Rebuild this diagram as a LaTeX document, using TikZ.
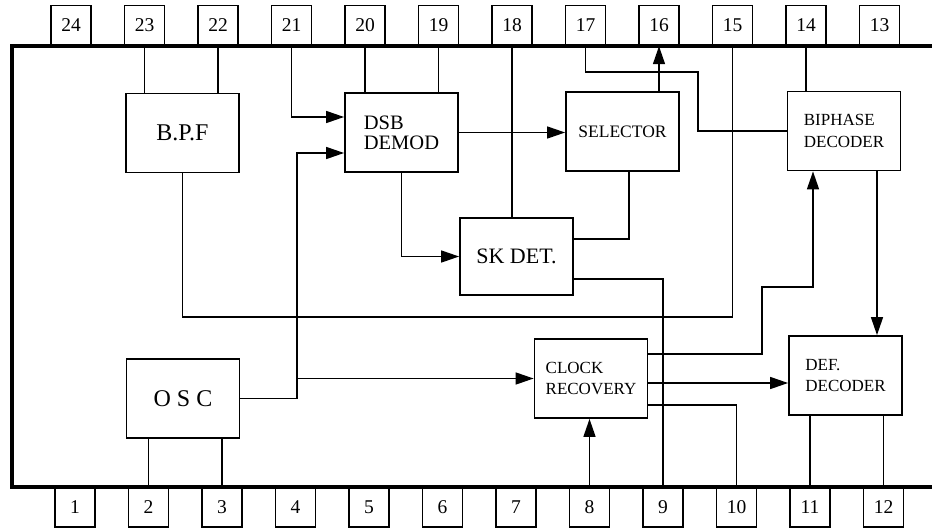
\documentclass[tikz,border=0pt]{standalone}
\usepackage{fontspec}
\setmainfont{Liberation Serif}
\usetikzlibrary{arrows.meta, positioning, calc}
\tikzset{
   mypin/.style={draw, line width=1.4pt, minimum width=40pt, minimum height=40pt, inner sep=0pt, font=\fontsize{19.5}{19.5}\selectfont},
   myblock/.style={draw, line width=1.8pt, minimum width=113pt, minimum height=79pt, inner sep=0pt, align=left},
   mywire/.style={line width=1.5pt}
}

\begin{document}
\begin{tikzpicture}[x=1pt, y=-1pt, >={Triangle[length=18pt,width=12pt]}]
      \useasboundingbox (0,0) rectangle (932,531);
      % chip outline and pins
      \draw[line width=4.5pt] (932,46) -- (12,46) -- (12,487) -- (932,487);
      \foreach \n in {13,...,24}
        \node[mypin] (t\n) at ({71+73.5*(24-\n)},25.5) {\n};
      \foreach \n in {1,...,12}
        \node[mypin] (b\n) at ({75+73.5*(\n-1)},507) {\n};

      % blocks
      \node[myblock, font=\fontsize{24}{24}\selectfont] (bpf) at (182.5,133) {B.P.F};
      \node[myblock, font=\fontsize{20.5}{20}\selectfont] (dsb) at (401.5,132.5) {DSB\\DEMOD};
      \node[myblock, font=\fontsize{17.5}{21}\selectfont] (sel) at (622.5,131.5) {SELECTOR};
      \node[myblock, font=\fontsize{17}{21.5}\selectfont] (bip) at (844,131) {BIPHASE\\DECODER};
      \node[myblock, minimum height=77pt, font=\fontsize{22}{22}\selectfont] (sk) at (516.5,256.5) {SK DET.};
      \node[myblock, font=\fontsize{24}{24}\selectfont] (osc) at (183,398.5) {O S C};
      \node[myblock, font=\fontsize{17}{21.5}\selectfont] (clk) at (591,378.5) {CLOCK\\RECOVERY};
      \node[myblock, font=\fontsize{17}{21.5}\selectfont] (def) at (845.5,375.5) {DEF.\\DECODER};
      \coordinate (bus) at (297,0);

      % pins to blocks
      \draw[mywire] (t23.south) -- (t23.south |- bpf.north);
      \draw[mywire] (t22.south) -- (t22.south |- bpf.north);
      \draw[mywire] (t20.south) -- (t20.south |- dsb.north);
      \draw[mywire] (t19.south) -- (t19.south |- dsb.north);
      \draw[mywire] (t18.south) -- (t18.south |- sk.north);
      \draw[mywire] (t14.south) -- (t14.south |- bip.north);
      \draw[mywire] (b2.north) -- (b2.north |- osc.south);
      \draw[mywire] (b3.north) -- (b3.north |- osc.south);
      \draw[mywire] (b11.north) -- (b11.north |- def.south);
      \draw[mywire] (b12.north) -- (b12.north |- def.south);
      \draw[mywire,->] (b8.north) -- (b8.north |- clk.south);
      \draw[mywire,->] (sel.north -| t16) -- (t16.south);
      \draw[mywire,->] (t21.south) |- (dsb.west |- 0,117);
      \draw[mywire] (t17.south) |- (698,72) |- (bip.west);
      \draw[mywire] (bpf.south) |- (t15 |- 0,317) -- (t15.south);

      % signal paths
      \draw[mywire,->] (osc.east) -| (bus |- 0,153) -- (dsb.west |- 0,153);
      \draw[mywire,->] (clk.west -| bus) -- (clk.west);
      \draw[mywire,->] (dsb.east) -- (sel.west |- dsb.east);
      \draw[mywire,->] (dsb.south) |- (sk.west);
      \draw[mywire] ([xshift=6.5pt]sel.south) |- (sk.east |- 0,239);
      \draw[mywire,->] (bip.south -| 877,0) -- (def.north -| 877,0);
      \draw[mywire,->] (clk.east |- 0,354) -| (762,287) -| (bip.south -| 813,0);
      \draw[mywire,->] (clk.east |- 0,383) -- (def.west |- 0,383);
      \draw[mywire] (clk.east |- 0,405) -| (b10.north);
      \draw[mywire] (sk.east |- 0,279) -| (b9.north);
\end{tikzpicture}
\end{document}
